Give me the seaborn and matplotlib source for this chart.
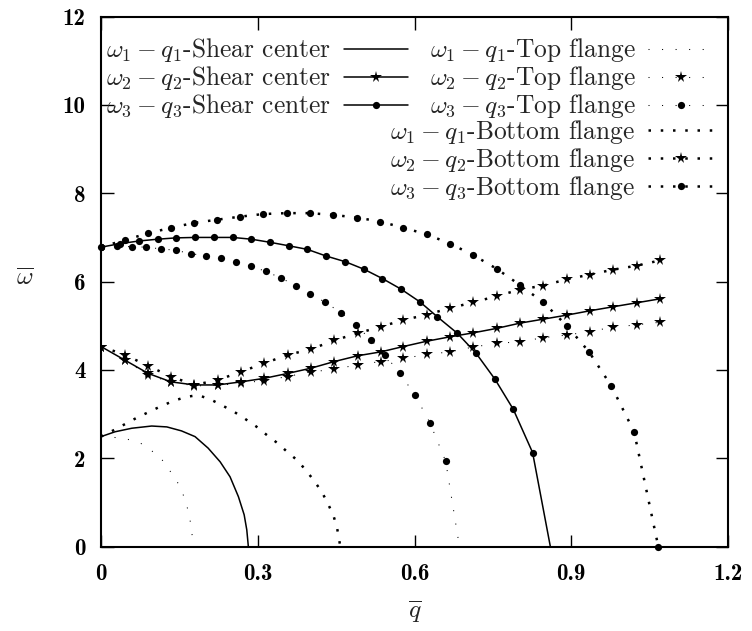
import numpy as np
import pandas as pd
import matplotlib
matplotlib.use("Agg")
import matplotlib.pyplot as plt
import seaborn as sns
from matplotlib.lines import Line2D

# ---------------- data ----------------
sc1_q = [0, 0.027, 0.059, 0.097, 0.126, 0.154, 0.180, 0.205, 0.228, 0.247, 0.263, 0.274, 0.279, 0.282]
sc1_w = [2.49, 2.60, 2.68, 2.73, 2.71, 2.62, 2.49, 2.23, 1.92, 1.58, 1.13, 0.72, 0.38, 0.0]

tf1_q = [0, 0.027, 0.051, 0.076, 0.097, 0.116, 0.131, 0.145, 0.156, 0.164, 0.170, 0.175, 0.177]
tf1_w = [2.49, 2.47, 2.43, 2.34, 2.17, 1.98, 1.73, 1.49, 1.22, 0.94, 0.64, 0.21, 0.0]

bf1_q = [0, 0.025, 0.047, 0.069, 0.092, 0.115, 0.139, 0.163, 0.186, 0.210, 0.233, 0.255, 0.276,
         0.297, 0.317, 0.337, 0.357, 0.376, 0.392, 0.408, 0.423, 0.434, 0.445, 0.452, 0.456, 0.458]
bf1_w = [2.49, 2.64, 2.78, 2.92, 3.05, 3.18, 3.30, 3.39, 3.43, 3.33, 3.19, 3.05, 2.89,
         2.72, 2.53, 2.35, 2.14, 1.95, 1.73, 1.49, 1.23, 0.98, 0.70, 0.41, 0.14, 0.0]

q2 = [0, 0.046, 0.0905, 0.134, 0.1786, 0.2233, 0.268, 0.3125, 0.357, 0.402, 0.4465, 0.491, 0.536,
      0.5786, 0.6234, 0.668, 0.7125, 0.757, 0.802, 0.8466, 0.891, 0.936, 0.980, 1.025, 1.070]
sc2_w = [4.53, 4.22, 3.92, 3.73, 3.66, 3.66, 3.73, 3.81, 3.92, 4.04, 4.19, 4.32, 4.41,
         4.53, 4.65, 4.75, 4.84, 4.94, 5.06, 5.15, 5.24, 5.34, 5.43, 5.52, 5.61]
tf2_w = [4.53, 4.22, 3.88, 3.73, 3.64, 3.65, 3.70, 3.76, 3.85, 3.96, 4.01, 4.12, 4.19,
         4.26, 4.35, 4.41, 4.52, 4.60, 4.64, 4.73, 4.79, 4.87, 4.97, 5.02, 5.08]
bf2_w = [4.53, 4.34, 4.09, 3.85, 3.66, 3.77, 3.96, 4.15, 4.34, 4.47, 4.67, 4.83, 4.98,
         5.13, 5.25, 5.40, 5.53, 5.67, 5.82, 5.91, 6.05, 6.16, 6.27, 6.36, 6.48]

sc3_q = [0, 0.037, 0.073, 0.1085, 0.1435, 0.180, 0.2163, 0.252, 0.2877, 0.3234, 0.3598, 0.3948, 0.4306,
         0.4676, 0.5033, 0.5384, 0.5742, 0.6105, 0.644, 0.682, 0.7177, 0.754, 0.789, 0.826, 0.860]
sc3_w = [6.78, 6.86, 6.92, 6.96, 6.99, 7.00, 7.00, 7.00, 6.96, 6.89, 6.81, 6.73, 6.58,
         6.45, 6.28, 6.07, 5.83, 5.54, 5.20, 4.83, 4.38, 3.79, 3.11, 2.13, 0.0]

tf3_q = [0, 0.030, 0.0588, 0.086, 0.115, 0.1435, 0.1717, 0.201, 0.2297, 0.2584, 0.2877, 0.3158, 0.3445,
         0.3732, 0.400, 0.4293, 0.4588, 0.4875, 0.5167, 0.5435, 0.5722, 0.601, 0.6297, 0.6597, 0.686]
tf3_w = [6.78, 6.80, 6.79, 6.78, 6.74, 6.71, 6.63, 6.59, 6.54, 6.44, 6.35, 6.23, 6.08,
         5.91, 5.73, 5.53, 5.30, 5.02, 4.68, 4.34, 3.92, 3.43, 2.80, 1.93, 0.0]

bf3_q = [0, 0.045, 0.0894, 0.134, 0.1786, 0.2214, 0.266, 0.3106, 0.3554, 0.400, 0.4446, 0.4894, 0.534,
         0.5786, 0.6234, 0.668, 0.7125, 0.7573, 0.802, 0.8466, 0.8915, 0.934, 0.9765, 1.0203, 1.0666]
bf3_w = [6.78, 6.94, 7.09, 7.22, 7.33, 7.40, 7.47, 7.53, 7.55, 7.55, 7.51, 7.45, 7.36,
         7.22, 7.07, 6.86, 6.60, 6.29, 5.92, 5.53, 5.00, 4.41, 3.64, 2.60, 0.0]

x_ticks = [0, 0.3, 0.6, 0.9, 1.2]
x_tick_labels = ["0", "0.3", "0.6", "0.9", "1.2"]
y_ticks = [0, 2, 4, 6, 8, 10, 12]
y_tick_labels = ["0", "2", "4", "6", "8", "10", "12"]

labels_sc = [r"$\omega_1 - q_1$-Shear center", r"$\omega_2 - q_2$-Shear center", r"$\omega_3 - q_3$-Shear center"]
labels_tf = [r"$\omega_1 - q_1$-Top flange", r"$\omega_2 - q_2$-Top flange", r"$\omega_3 - q_3$-Top flange"]
labels_bf = [r"$\omega_1 - q_1$-Bottom flange", r"$\omega_2 - q_2$-Bottom flange", r"$\omega_3 - q_3$-Bottom flange"]

# ---------------- style ----------------
sns.set_theme(style="ticks")
plt.rcParams.update({
    "font.family": ["cmr10", "DejaVu Serif"],
    "mathtext.fontset": "cm",
    "axes.unicode_minus": False,
    "axes.formatter.use_mathtext": True,
})

FS = 18.3
TFS = 16.5
SOLID = dict(color="black", lw=1.1, linestyle="-")
FINE = dict(color="black", lw=0.75, linestyle=(0, (1, 12.0)), dash_capstyle="butt")
BIG = dict(color="black", lw=1.8, linestyle=(0, (1, 3.9)), dash_capstyle="butt")
STAR = dict(marker="*", markersize=8.5, mfc="black", mec="black", mew=0)
DOT = dict(marker="o", markersize=5.2, mfc="black", mec="black", mew=0)

fig = plt.figure(figsize=(7.52, 6.31), dpi=100)
ax = fig.add_axes([101 / 752, 1 - 546.6 / 631, 627 / 752, 530 / 631])


def draw(q, w, style, mk=None, markevery=None, clip=True):
    kw = dict(style)
    if mk:
        kw.update(mk)
        if markevery is not None:
            kw["markevery"] = markevery
    sns.lineplot(x=q, y=w, ax=ax, sort=False, estimator=None, legend=False, clip_on=clip, **kw)


# omega_1
draw(sc1_q, sc1_w, SOLID)
draw(tf1_q, tf1_w, FINE)
draw(bf1_q, bf1_w, BIG)
# omega_2
draw(q2, sc2_w, SOLID, STAR)
draw(q2, tf2_w, FINE, STAR)
draw(q2, bf2_w, BIG, STAR)
# omega_3
draw(sc3_q, sc3_w, SOLID, DOT, markevery=slice(0, len(sc3_q) - 1))
draw(tf3_q, tf3_w, FINE, DOT, markevery=slice(0, len(tf3_q) - 1))
draw(bf3_q, bf3_w, BIG, DOT, clip=False)

ax.set_xlim(0, 1.2)
ax.set_ylim(0, 12)
ax.set_xticks(x_ticks)
ax.set_yticks(y_ticks)
ax.set_xticklabels(x_tick_labels, fontsize=TFS, fontfamily="cmb10")
ax.set_yticklabels(y_tick_labels, fontsize=TFS, fontfamily="cmb10")
ax.tick_params(direction="in", length=9, width=1.0, top=True, right=True, colors="black")
ax.tick_params(axis="x", pad=12)
ax.tick_params(axis="y", pad=11)
for s in ax.spines.values():
    s.set_visible(True)
    s.set_linewidth(1.5)
    s.set_color("black")
ax.grid(False)

ax.set_xlabel(r"$\overline{q}$", fontsize=FS)
ax.set_ylabel(r"$\overline{\omega}$", fontsize=FS, rotation=0)
ax.xaxis.set_label_coords(0.5, -0.097)
ax.yaxis.set_label_coords(-0.121, 0.484)

# legends
h_sc = [Line2D([], [], **SOLID), Line2D([], [], **SOLID, **STAR), Line2D([], [], **SOLID, **DOT)]
h_tf = [Line2D([], [], **FINE), Line2D([], [], **FINE, **STAR), Line2D([], [], **FINE, **DOT)]
h_bf = [Line2D([], [], **BIG), Line2D([], [], **BIG, **STAR), Line2D([], [], **BIG, **DOT)]

common = dict(frameon=False, markerfirst=False, fontsize=FS, handlelength=2.55, handletextpad=0.5,
              labelspacing=0.0, borderpad=0, borderaxespad=0, numpoints=1)
legA = ax.legend(h_sc, labels_sc, loc="upper left", bbox_to_anchor=(0.008, 0.9625), **common)
ax.add_artist(legA)
legB = ax.legend(h_tf, labels_tf, loc="upper right", bbox_to_anchor=(0.976, 0.9625), **common)
ax.add_artist(legB)
legC = ax.legend(h_bf, labels_bf, loc="upper right", bbox_to_anchor=(0.976, 0.808), **common)

fig.savefig("out.png", dpi=100)
